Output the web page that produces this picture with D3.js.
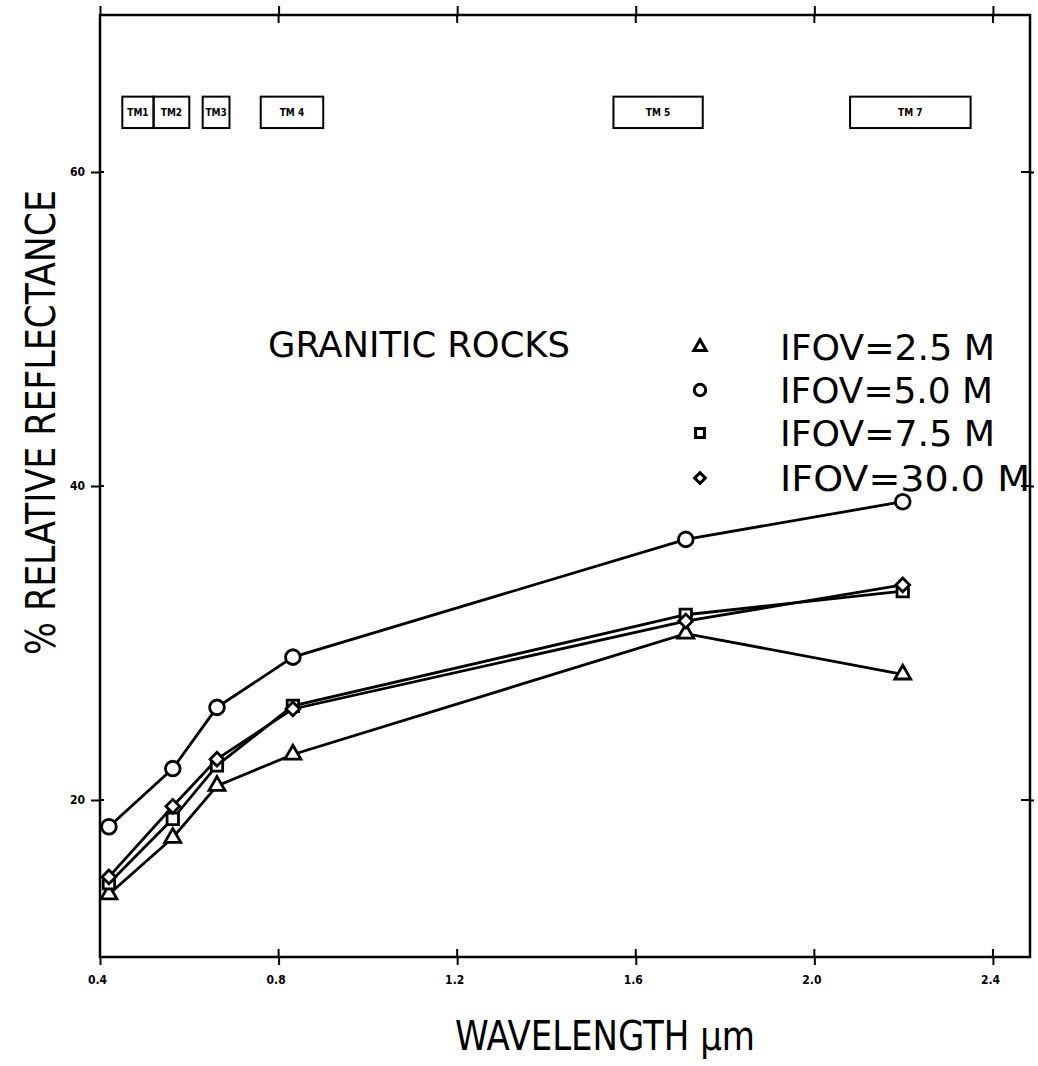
<!DOCTYPE html>
<html>
<head>
<meta charset="utf-8">
<script src="https://cdn.jsdelivr.net/npm/d3@7"></script>
<style>
  html, body { margin: 0; padding: 0; background: #fff; }
  svg { display: block; }
  .plot { font-family: "DejaVu Sans Condensed", "Liberation Sans Narrow", "DejaVu Sans", sans-serif; }
</style>
</head>
<body>
<svg id="chart" width="1038" height="1066"></svg>
<script>
// ---- data ----
const wavelengths = [0.42, 0.563, 0.662, 0.832, 1.712, 2.198];
const ifov25 = [14.0, 17.6, 20.9, 22.9, 30.6, 28.0];
const ifov50 = [18.3, 22.0, 25.9, 29.1, 36.6, 39.0];
const ifov75 = [14.7, 18.8, 22.2, 26.0, 31.8, 33.3];
const ifov300 = [15.1, 19.6, 22.6, 25.8, 31.4, 33.7];
const seriesNames = ["IFOV=2.5 M", "IFOV=5.0 M", "IFOV=7.5 M", "IFOV=30.0 M"];
const seriesSymbols = ["triangle", "circle", "square", "diamond"];
const xTicks = [0.4, 0.8, 1.2, 1.6, 2.0, 2.4];
const xTickLabels = ["0.4", "0.8", "1.2", "1.6", "2.0", "2.4"];
const yTicks = [20, 40, 60];
const yTickLabels = ["20", "40", "60"];
const bandNames = ["TM1", "TM2", "TM3", "TM 4", "TM 5", "TM 7"];
const bandStart = [0.45, 0.52, 0.63, 0.76, 1.55, 2.08];
const bandEnd = [0.52, 0.60, 0.69, 0.90, 1.75, 2.35];
const titleText = "GRANITIC ROCKS";
const xTitle = "WAVELENGTH µm";
const yTitle = "% RELATIVE REFLECTANCE";

// ---- scales ----
const svg = d3.select("#chart").attr("class", "plot");
const x = d3.scaleLinear().domain([0.4, 2.483]).range([100, 1030]);
const y = d3.scaleLinear().domain([10, 70]).range([957, 15]);
const [x0, x1] = x.range();
const [yb, yt] = y.range();

// frame
svg.append("rect")
  .attr("x", x0).attr("y", yt).attr("width", x1 - x0).attr("height", yb - yt)
  .attr("fill", "none").attr("stroke", "#000").attr("stroke-width", 2.5);

function styleAxis(g) {
  g.select(".domain").remove();
  g.selectAll(".tick line").attr("stroke", "#000").attr("stroke-width", 2);
}
const fmtX = (d) => xTickLabels[xTicks.indexOf(d)];
const fmtY = (d) => yTickLabels[yTicks.indexOf(d)];

svg.append("g").attr("transform", `translate(0,${yb})`)
  .call(d3.axisBottom(x).tickValues(xTicks).tickSize(8).tickPadding(10).tickFormat(fmtX))
  .call(styleAxis)
  .call(g => g.selectAll("text").attr("font-size", 12).attr("font-weight", "bold")
    .attr("fill", "#000").attr("dx", -3).attr("font-family", "DejaVu Sans Condensed, DejaVu Sans, sans-serif"));

svg.append("g").attr("transform", `translate(0,${yt})`)
  .call(d3.axisTop(x).tickValues(xTicks).tickSize(9).tickFormat(""))
  .call(styleAxis);

svg.append("g").attr("transform", `translate(${x0},0)`)
  .call(d3.axisLeft(y).tickValues(yTicks).tickSize(9).tickPadding(6).tickFormat(fmtY))
  .call(styleAxis)
  .call(g => g.selectAll("text").attr("font-size", 12).attr("font-weight", "bold")
    .attr("fill", "#000").attr("font-family", "DejaVu Sans Condensed, DejaVu Sans, sans-serif"));

svg.append("g").attr("transform", `translate(${x1},0)`)
  .call(d3.axisRight(y).tickValues(yTicks).tickSize(4).tickFormat(""))
  .call(styleAxis);

// inner tick halves
const innerX = xTicks.filter(d => d > 0.4);
svg.append("g").selectAll("line").data(innerX).join("line")
  .attr("x1", d => x(d)).attr("x2", d => x(d)).attr("y1", yb).attr("y2", yb - 8)
  .attr("stroke", "#000").attr("stroke-width", 2);
svg.append("g").selectAll("line").data(innerX).join("line")
  .attr("x1", d => x(d)).attr("x2", d => x(d)).attr("y1", yt).attr("y2", yt + 8)
  .attr("stroke", "#000").attr("stroke-width", 2);
svg.append("g").selectAll("line").data(yTicks).join("line")
  .attr("x1", x0).attr("x2", x0 + 4).attr("y1", d => y(d)).attr("y2", d => y(d))
  .attr("stroke", "#000").attr("stroke-width", 2);
svg.append("g").selectAll("line").data(yTicks).join("line")
  .attr("x1", x1).attr("x2", x1 - 9).attr("y1", d => y(d)).attr("y2", d => y(d))
  .attr("stroke", "#000").attr("stroke-width", 2);

// TM band boxes
const bandTop = 64.8, bandBottom = 62.8;
const bands = bandNames.map((n, i) => ({ name: n, s: bandStart[i], e: bandEnd[i] }));
const bg = svg.append("g");
bg.selectAll("rect").data(bands).join("rect")
  .attr("x", d => x(d.s)).attr("y", y(bandTop))
  .attr("width", d => x(d.e) - x(d.s)).attr("height", y(bandBottom) - y(bandTop))
  .attr("fill", "none").attr("stroke", "#000").attr("stroke-width", 2);
bg.selectAll("text").data(bands).join("text")
  .attr("x", d => (x(d.s) + x(d.e)) / 2).attr("y", (y(bandTop) + y(bandBottom)) / 2 + 4)
  .attr("text-anchor", "middle").attr("font-size", 10).attr("font-weight", "bold")
  .attr("font-family", "DejaVu Sans Condensed, DejaVu Sans, sans-serif")
  .text(d => d.name);

// series
const allSeries = [ifov25, ifov50, ifov75, ifov300].map((vals, i) => ({
  name: seriesNames[i], sym: seriesSymbols[i],
  pts: vals.map((v, j) => ({ x: wavelengths[j], y: v }))
}));
const symType = { triangle: d3.symbolTriangle, circle: d3.symbolCircle, square: d3.symbolSquare, diamond: d3.symbolSquare };
const symSize = { triangle: 110, circle: 170, square: 130, diamond: 95 };
const symRot = { triangle: 0, circle: 0, square: 0, diamond: 45 };
const line = d3.line().x(d => x(d.x)).y(d => y(d.y));

const sg = svg.append("g");
sg.selectAll("path.line").data(allSeries).join("path")
  .attr("class", "line").attr("d", d => line(d.pts))
  .attr("fill", "none").attr("stroke", "#000").attr("stroke-width", 2.8);

allSeries.forEach(s => {
  sg.append("g").selectAll("path").data(s.pts).join("path")
    .attr("transform", d => `translate(${x(d.x)},${y(d.y)}) rotate(${symRot[s.sym]})`)
    .attr("d", d3.symbol().type(symType[s.sym]).size(symSize[s.sym]))
    .attr("fill", "#fff").attr("stroke", "#000").attr("stroke-width", 2.8);
});

// title
svg.append("text").attr("x", 268).attr("y", 357)
  .attr("font-size", 36).attr("textLength", 302).attr("lengthAdjust", "spacingAndGlyphs")
  .text(titleText);

// legend
const legY = [347, 390, 433, 478];
const legW = [215, 213, 215, 250];
const lg = svg.append("g");
allSeries.forEach((s, i) => {
  lg.append("path").attr("transform", `translate(700,${legY[i]}) rotate(${symRot[s.sym]})`)
    .attr("d", d3.symbol().type(symType[s.sym]).size(symSize[s.sym] * 0.6))
    .attr("fill", "#fff").attr("stroke", "#000").attr("stroke-width", 3);
  lg.append("text").attr("x", 780).attr("y", legY[i] + 13)
    .attr("font-size", 36).attr("textLength", legW[i]).attr("lengthAdjust", "spacingAndGlyphs")
    .text(s.name);
});

// axis titles
svg.append("text").attr("x", 455).attr("y", 1050)
  .attr("font-size", 40).attr("textLength", 300).attr("lengthAdjust", "spacingAndGlyphs")
  .text(xTitle);
svg.append("text").attr("transform", "translate(55,655) rotate(-90)")
  .attr("font-size", 40).attr("textLength", 465).attr("lengthAdjust", "spacingAndGlyphs")
  .text(yTitle);
</script>
</body>
</html>
